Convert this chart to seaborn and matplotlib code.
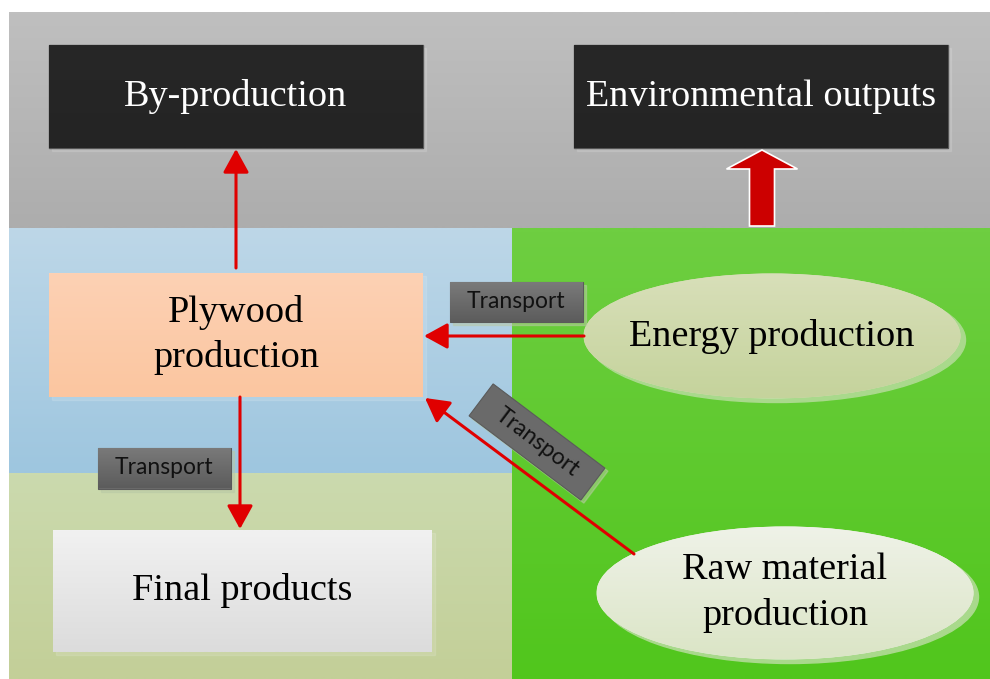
import numpy as np
import matplotlib
matplotlib.use("Agg")
import matplotlib.pyplot as plt
import seaborn as sns
from matplotlib.patches import Rectangle, Ellipse, FancyArrow, FancyArrowPatch


# =========================
# Diagram content
# =========================
box_labels = ["By-production", "Environmental outputs", "Plywood\nproduction", "Final products"]
ellipse_labels = ["Energy production", "Raw material\nproduction"]
link_label = "Transport"

# layout in pixel units (x0, y0, x1, y1), y goes down
box_pos = [(49, 45, 423, 148), (574, 45, 948, 148), (49, 273, 423, 397), (53, 530, 432, 652)]
box_cols = [("#272727", "#242424"), ("#272727", "#242424"),
            ("#fdd1b4", "#fbc6a0"), ("#f1f1f1", "#dcdcdc")]
box_text = ["white", "white", "black", "black"]

ell_pos = [(772, 336, 377, 125), (785, 593, 377, 133)]
ell_cols = [("#d8dfb9", "#c5d39c"), ("#eff2e8", "#dbe5c6")]

regions = [(9, 12, 990, 228, "#bfbfbf", "#adadad"),
           (9, 228, 512, 473, "#bdd7e8", "#9ec6df"),
           (9, 473, 512, 679, "#cbdaae", "#c3cf98"),
           (512, 228, 990, 679, "#6ece41", "#51c61d")]


def grad(ax, x0, y0, x1, y1, c_top, c_bot, z, clip=None):
    cols = np.array(sns.blend_palette([c_top, c_bot], n_colors=64))
    im = ax.imshow(cols[:, None, :], extent=(x0, x1, y1, y0), aspect="auto",
                   interpolation="bilinear", zorder=z)
    if clip is not None:
        im.set_clip_path(clip)
    return im


def arrow(ax, start, end):
    a = FancyArrowPatch(start, end, arrowstyle="-|>,head_length=0.4,head_width=0.22",
                        mutation_scale=36, color="#e00000", lw=2.2, zorder=6,
                        shrinkA=0, shrinkB=0)
    ax.add_patch(a)


def transport(ax, cx, cy, w, h, angle=0):
    ax.add_patch(Rectangle((cx - w / 2 + 3, cy - h / 2 + 3), w, h, angle=angle,
                           rotation_point=(cx + 3, cy + 3), color="#b9c9a5", alpha=0.5, zorder=7))
    r = Rectangle((cx - w / 2, cy - h / 2), w, h, angle=angle, rotation_point=(cx, cy),
                  facecolor="#6a6a6a", edgecolor="#5a5a5a", lw=0.8, zorder=8)
    ax.add_patch(r)
    if angle == 0:
        grad(ax, cx - w / 2, cy - h / 2, cx + w / 2, cy + h / 2, "#7a7a7a", "#5c5c5c", 8.5, clip=r)
    ax.text(cx, cy, link_label, rotation=-angle, rotation_mode="anchor", ha="center",
            va="center", fontsize=16.5, color="#111111", family=["Lato", "DejaVu Sans"], zorder=9)


sns.set_theme(style="white")
plt.rcParams["font.family"] = ["Liberation Serif", "DejaVu Serif"]

fig = plt.figure(figsize=(9.9, 6.79), dpi=100)
ax = fig.add_axes([0, 0, 1, 1])

for x0, y0, x1, y1, ct, cb in regions:
    grad(ax, x0, y0, x1, y1, ct, cb, 0)

# boxes
for lab, (x0, y0, x1, y1), (ct, cb), tc in zip(box_labels, box_pos, box_cols, box_text):
    ax.add_patch(Rectangle((x0 + 3, y0 + 3), x1 - x0, y1 - y0, color="white", alpha=0.12, zorder=2))
    r = Rectangle((x0, y0), x1 - x0, y1 - y0, facecolor=ct,
                  edgecolor="#555555" if tc == "white" else "none", lw=1, zorder=3)
    ax.add_patch(r)
    grad(ax, x0, y0, x1, y1, ct, cb, 3.5, clip=r)
    ax.text((x0 + x1) / 2, (y0 + y1) / 2, lab, ha="center", va="center", fontsize=27.5,
            color=tc, linespacing=1.4, zorder=4)

# ellipses
for lab, (cx, cy, w, h), (ct, cb) in zip(ellipse_labels, ell_pos, ell_cols):
    ax.add_patch(Ellipse((cx + 5, cy + 4), w, h, color="#a9d98c", zorder=2))
    e = Ellipse((cx, cy), w, h, facecolor=ct, edgecolor="none", zorder=3)
    ax.add_patch(e)
    grad(ax, cx - w / 2, cy - h / 2, cx + w / 2, cy + h / 2, ct, cb, 3.5, clip=e)
    ax.text(cx, cy, lab, ha="center", va="center", fontsize=27.5, color="black",
            linespacing=1.4, zorder=4)

# flow arrows
arrow(ax, (236, 268), (236, 149))
arrow(ax, (240, 397), (240, 529))
arrow(ax, (584, 336), (424, 336))
arrow(ax, (634, 554), (425, 398))

# big arrow to environmental outputs
ax.add_patch(FancyArrow(762, 226, 0, -76, width=25, head_width=71, head_length=19,
                        length_includes_head=True, facecolor="#cc0000",
                        edgecolor="white", lw=1.2, zorder=6))

# transport tags
transport(ax, 164, 468, 133, 41)
transport(ax, 516, 302, 133, 40)
transport(ax, 537, 442, 140, 40, angle=37)

ax.set_xlim(0, 990)
ax.set_ylim(679, 0)
ax.axis("off")
fig.savefig("out.png", dpi=100, facecolor="white")
